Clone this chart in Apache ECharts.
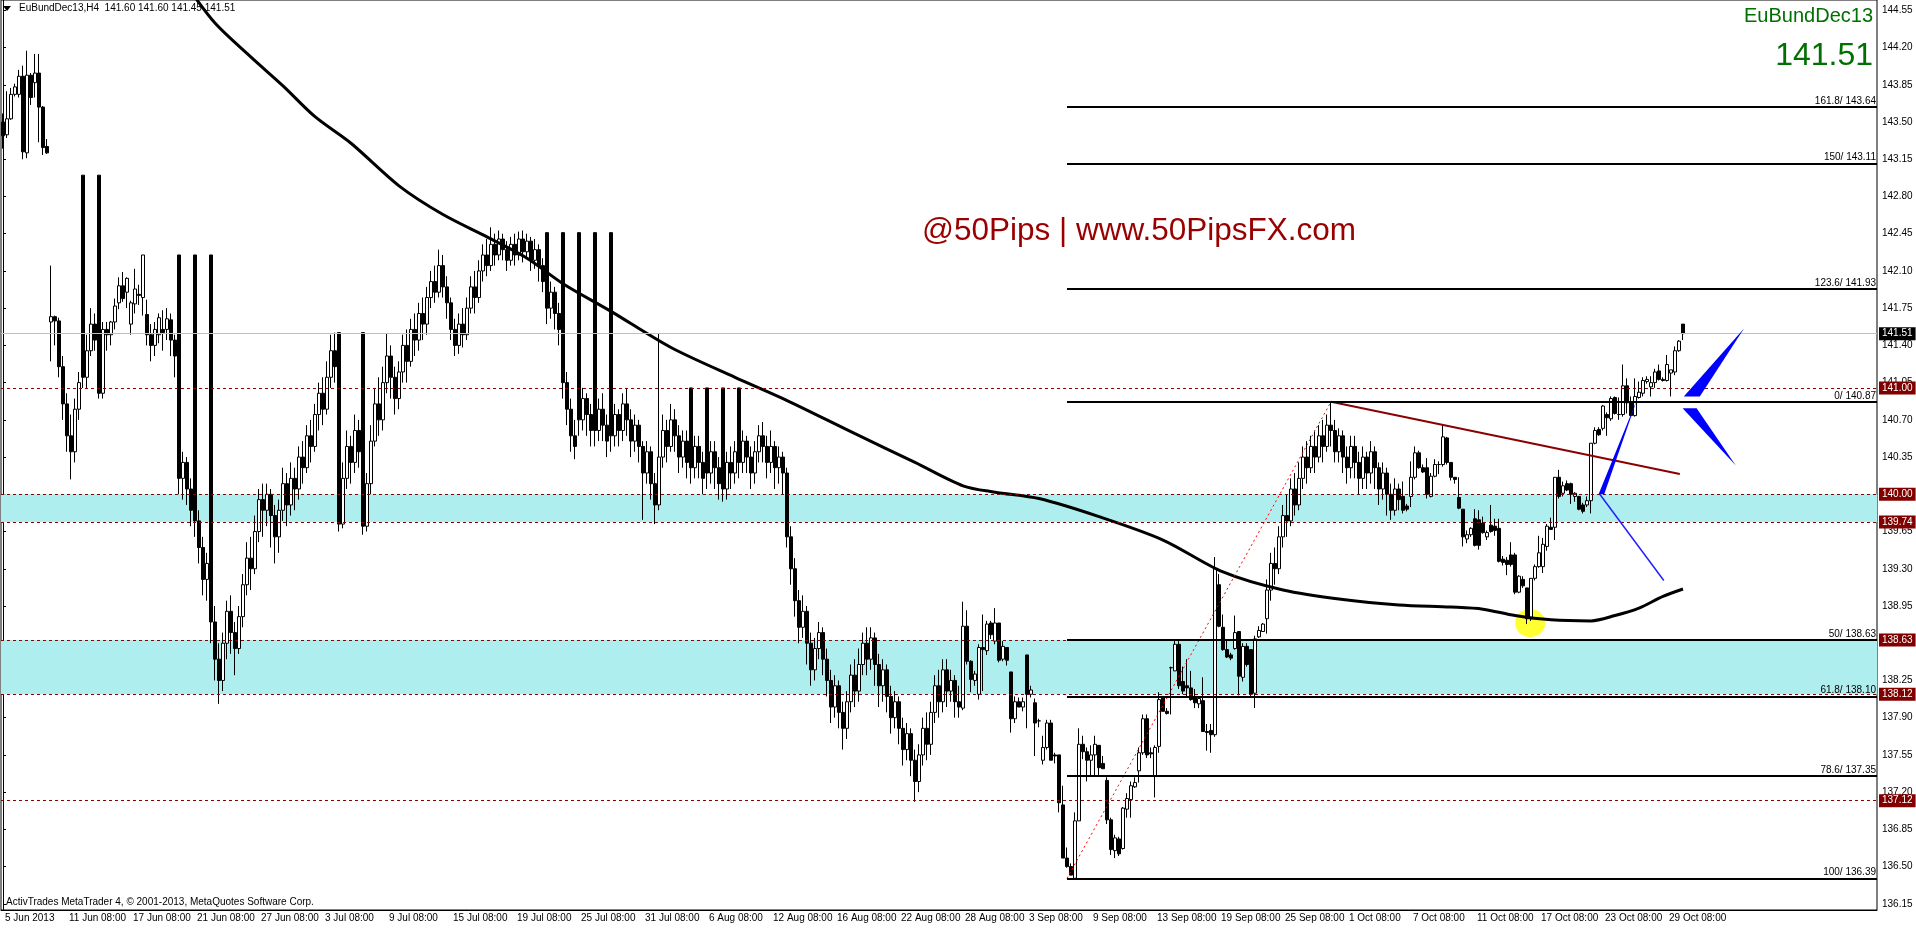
<!DOCTYPE html>
<html>
<head>
<meta charset="utf-8">
<title>EuBundDec13,H4</title>
<script src="https://cdn.jsdelivr.net/npm/echarts@6.0.0/dist/echarts.min.js"></script>
<style>
  html, body { margin: 0; padding: 0; background: #fff; }
  #chart { width: 1916px; height: 928px; }
</style>
</head>
<body>
<div id="chart"></div>
<script>
// H4 bars, one row per bar: [open, close, low, high]
const junBars = [
  [143.50,143.37,143.25,143.58],[143.38,143.53,143.35,143.79],[143.53,143.76,143.52,143.82],[143.76,143.83,143.74,143.86],
  [143.76,143.93,143.73,143.99],[143.93,143.22,143.15,144.03],[143.21,143.94,143.16,144.17],[143.94,143.73,143.66,143.96],
  [143.87,143.96,143.73,144.14],[143.96,143.64,143.31,144.14],[143.64,143.26,143.19,143.65],[143.27,143.21,143.20,143.34],
  [141.62,141.67,141.25,142.15],[141.67,141.63,141.40,141.68],[141.63,141.20,141.10,141.66],[141.20,140.85,140.70,141.30],
  [140.85,140.55,140.40,140.95],[140.55,140.40,140.14,140.75],[140.40,140.80,140.30,140.90],[140.80,141.05,140.70,141.15],
  [143.00,141.10,141.00,143.00],[141.10,141.35,141.00,141.50],[141.35,141.60,141.30,141.75],[141.60,141.45,141.35,141.70],
  [143.00,140.95,140.90,143.00],[140.95,141.55,140.90,141.62],[141.55,141.50,141.35,141.62],[141.50,141.62,141.40,141.63],
  [141.62,141.77,141.55,141.84],[141.80,141.96,141.74,142.04],[141.96,141.84,141.81,142.09],[141.90,142.03,141.75,142.04],
  [141.60,141.80,141.50,141.82],[141.79,141.93,141.70,142.12],[141.88,141.87,141.78,141.97],[141.85,142.25,141.68,142.25],
  [141.69,141.50,141.40,141.83],[141.50,141.40,141.25,141.60],[141.40,141.55,141.30,141.62],[141.50,141.66,141.42,141.70],
  [141.55,141.52,141.35,141.73],[141.55,141.65,141.45,141.75],[141.64,141.45,141.30,141.70],[141.45,141.30,141.10,141.50],
  [142.25,140.15,140.00,142.25],[140.15,140.30,139.95,140.40],[140.30,140.05,139.90,140.35],[140.05,139.85,139.70,140.15],
  [142.25,139.75,139.60,142.25],[139.75,139.50,139.35,139.85],[139.50,139.20,139.05,139.60],[139.20,139.35,139.00,139.45],
  [142.25,138.80,138.60,142.25],[138.80,138.45,138.25,138.95],[138.45,138.25,138.03,138.60],[138.25,138.60,138.15,138.70],
  [138.60,138.90,138.45,139.00],[138.90,138.70,138.50,139.05],[138.70,138.55,138.30,138.80],[138.55,138.85,138.50,138.95],
  [138.85,139.15,138.75,139.25],[139.15,139.40,139.05,139.55],[139.40,139.30,139.10,139.60],[139.30,139.65,139.25,139.80],
  [139.65,139.95,139.55,140.05],[139.95,139.85,139.60,140.10],[139.85,140.00,139.70,140.10],[140.00,139.80,139.50,140.05],
  [139.80,139.60,139.35,139.90],[139.60,139.85,139.45,139.95],[139.85,140.10,139.75,140.25],[140.10,139.90,139.70,140.20]
]
const julBars = [
  [139.90,140.15,139.80,140.30],[140.15,140.05,139.85,140.25],[140.05,140.35,139.95,140.45],[140.35,140.25,140.10,140.50],
  [140.25,140.55,140.20,140.65],[140.55,140.45,140.30,140.70],[140.45,140.75,140.40,140.85],[140.75,140.95,140.60,141.05],
  [140.95,140.80,140.65,141.10],[140.80,141.10,140.75,141.25],[141.10,141.35,141.00,141.50],[141.35,141.20,141.05,141.52],
  [141.52,139.72,139.65,141.52],[139.72,140.15,139.68,140.30],[140.15,140.45,140.05,140.60],[140.45,140.30,140.10,140.55],
  [140.30,140.60,140.20,140.75],[140.60,140.40,140.25,140.70],[141.52,139.70,139.62,141.52],[139.70,140.10,139.65,140.20],
  [140.10,140.50,140.00,140.65],[140.50,140.85,140.45,141.00],[140.85,140.70,140.55,141.10],[140.70,141.05,140.60,141.20],
  [141.05,141.30,140.95,141.51],[141.30,141.10,140.90,141.40],[141.10,140.90,140.75,141.20],[140.90,141.15,140.80,141.25],
  [141.15,141.40,141.05,141.50],[141.40,141.25,141.05,141.55],[141.25,141.55,141.20,141.65],[141.55,141.45,141.30,141.70],
  [141.45,141.70,141.35,141.80],[141.70,141.60,141.45,141.85],[141.60,141.85,141.50,141.95],[141.85,142.00,141.75,142.10],
  [142.00,141.90,141.80,142.15],[141.90,142.15,141.85,142.30],[142.15,141.95,141.85,142.25],[141.95,141.80,141.65,142.05],
  [141.80,141.55,141.45,141.85],[141.55,141.40,141.30,141.65],[141.40,141.60,141.32,141.70],[141.60,141.50,141.38,141.75],
  [141.50,141.75,141.45,141.85],[141.75,141.95,141.70,142.05],[141.95,141.85,141.70,142.10],[141.85,142.10,141.80,142.20],
  [142.10,142.25,142.00,142.35],[142.25,142.15,142.05,142.40],[142.15,142.35,142.10,142.51],[142.35,142.25,142.15,142.45],
  [142.25,142.40,142.20,142.48],[142.40,142.30,142.20,142.45],[142.30,142.20,142.10,142.38],[142.20,142.35,142.15,142.42],
  [142.35,142.25,142.15,142.45],[142.25,142.40,142.20,142.47],[142.40,142.28,142.18,142.48],[142.28,142.38,142.22,142.45],
  [142.38,142.20,142.10,142.42],[142.20,142.30,142.12,142.40],[142.30,142.15,142.00,142.35],[142.15,142.00,141.90,142.22],
  [142.46,141.75,141.60,142.46],[141.75,141.90,141.65,142.00],[141.90,141.70,141.55,141.95],[141.70,141.55,141.40,141.80],
  [142.46,141.05,140.90,142.46],[141.05,140.80,140.65,141.15],[140.80,140.55,140.40,140.90],[140.55,140.45,140.33,140.70],
  [142.46,140.70,140.55,142.46],[140.70,140.90,140.60,141.00],[140.90,140.75,140.55,140.95],[140.75,140.60,140.45,140.85],
  [142.46,140.60,140.45,142.46],[140.60,140.80,140.50,140.90],[140.80,140.65,140.50,140.95],[140.65,140.50,140.35,140.75],
  [142.46,140.55,140.40,142.46],[140.55,140.75,140.45,140.85],[140.75,140.60,140.45,140.80],[140.60,140.85,140.50,140.95],
  [140.85,140.70,140.55,141.00],[140.70,140.50,140.35,140.80],[140.50,140.65,140.40,140.75],[140.65,140.45,140.30,140.70],
  [140.45,140.20,139.76,140.50],[140.20,140.40,140.10,140.50],[140.40,140.10,139.95,140.45],[140.10,139.90,139.72,140.20]
]
const augBars = [
  [139.90,140.35,139.85,141.51],[140.35,140.60,140.25,140.75],[140.60,140.45,140.30,140.70],[140.45,140.70,140.40,140.85],
  [140.70,140.55,140.40,140.80],[140.55,140.35,140.20,140.65],[140.35,140.50,140.25,140.60],[140.50,140.30,140.15,140.60],
  [141.00,140.25,140.10,141.00],[140.25,140.45,140.15,140.55],[140.45,140.30,140.15,140.55],[140.30,140.15,140.00,140.40],
  [141.00,140.20,140.05,141.00],[140.20,140.40,140.10,140.50],[140.40,140.25,140.05,140.50],[140.25,140.10,139.95,140.35],
  [141.00,140.05,139.93,141.00],[140.05,140.30,139.95,140.40],[140.30,140.20,140.05,140.45],[140.20,140.40,140.10,140.50],
  [141.00,140.30,140.15,141.00],[140.30,140.50,140.20,140.60],[140.50,140.35,140.20,140.55],[140.35,140.20,140.05,140.45],
  [140.20,140.40,140.10,140.50],[140.40,140.55,140.30,140.65],[140.55,140.45,140.30,140.68],[140.45,140.30,140.15,140.55],
  [140.30,140.45,140.20,140.60],[140.45,140.25,140.05,140.50],[140.25,140.35,140.10,140.45],[140.35,140.20,140.00,140.40],
  [140.20,139.60,139.50,140.25],[139.60,139.30,139.15,139.70],[139.30,139.00,138.85,139.40],[139.00,138.75,138.60,139.10],
  [138.75,138.90,138.65,139.05],[138.90,138.60,138.40,138.95],[138.60,138.35,138.20,138.70],[138.35,138.55,138.25,138.65],
  [138.55,138.70,138.45,138.80],[138.70,138.45,138.30,138.75],[138.45,138.25,138.10,138.55],[138.25,138.00,137.85,138.35],
  [138.00,138.20,137.90,138.30],[138.20,137.95,137.80,138.25],[137.95,137.80,137.60,138.05],[137.80,138.05,137.70,138.15],
  [138.05,138.30,137.95,138.40],[138.30,138.15,138.00,138.45],[138.15,138.40,138.05,138.55],[138.40,138.60,138.30,138.70],
  [138.60,138.45,138.30,138.75],[138.45,138.65,138.35,138.75],[138.65,138.40,138.20,138.70],[138.40,138.20,138.00,138.50],
  [138.20,138.35,138.05,138.45],[138.35,138.10,137.95,138.40],[138.10,137.90,137.75,138.20],[137.90,138.05,137.80,138.15],
  [138.05,137.80,137.65,138.10],[137.80,137.60,137.45,137.90],[137.60,137.75,137.50,137.85],[137.75,137.50,137.35,137.80],
  [137.50,137.30,137.11,137.60],[137.30,137.55,137.20,137.65],[137.55,137.80,137.45,137.90],[137.80,137.65,137.50,137.95],
  [137.65,137.95,137.55,138.05],[137.95,138.20,137.85,138.30],[138.20,138.05,137.90,138.35],[138.05,138.35,137.95,138.45],
  [138.35,138.15,138.00,138.45],[138.15,138.25,138.05,138.35],[138.25,138.05,137.90,138.30],[138.05,138.00,137.90,138.20],
  [137.99,138.76,137.97,138.99],[138.76,138.43,138.40,138.91],[138.43,138.26,138.14,138.44],[138.25,138.31,138.20,138.34],
  [138.12,138.56,138.07,138.59],[138.56,138.54,138.15,138.87],[138.53,138.78,138.49,138.81],[138.79,138.68,138.64,138.81],
  [138.62,138.79,138.59,138.93],[138.79,138.44,138.42,138.79],[138.45,138.57,138.43,138.62],[138.56,138.44,138.39,138.56]
]
const sepBars = [
  [138.33,137.89,137.76,138.33],[137.89,138.05,137.85,138.10],[138.05,138.00,138.00,138.09],[138.00,138.05,137.96,138.09],
  [138.49,138.12,137.80,138.49],[138.12,138.16,138.09,138.20],[138.04,137.85,137.54,138.08],[137.87,137.87,137.81,137.89],
  [137.50,137.62,137.46,137.73],[137.62,137.85,137.60,137.88],[137.85,137.50,137.50,137.88],[137.55,137.54,137.47,137.57],
  [137.55,137.10,137.01,137.55],[137.08,136.58,136.58,137.26],[136.58,136.50,136.49,136.68],[136.50,136.42,136.42,136.53],
  [136.39,136.93,136.38,137.01],[136.93,137.65,136.93,137.80],[137.65,137.58,137.51,137.73],[137.58,137.50,137.30,137.62],
  [137.50,137.55,137.35,137.64],[137.55,137.65,137.35,137.73],[137.64,137.43,137.35,137.64],[137.47,137.42,137.42,137.54],
  [137.31,136.94,136.90,137.34],[136.94,136.66,136.61,136.96],[136.65,136.77,136.58,136.80],[136.76,136.62,136.60,136.78],
  [136.67,137.05,136.66,137.06],[137.04,137.14,136.96,137.19],[137.13,137.26,136.96,137.30],[137.25,137.29,137.24,137.34],
  [137.40,137.57,137.29,137.62],[137.57,137.89,137.55,137.93],[137.89,137.55,137.52,137.93],[137.57,137.56,137.52,137.62],
  [137.35,137.62,137.15,137.64],[137.63,138.07,137.57,138.14],[138.10,137.96,137.96,138.10],[137.96,137.94,137.93,137.99],
  [138.37,138.37,137.93,138.38],[138.34,138.59,138.34,138.63],[138.59,138.20,138.17,138.62],[138.24,138.15,138.12,138.38],
  [138.20,138.18,138.09,138.45],[138.18,138.07,138.06,138.34],[138.10,138.04,137.99,138.17],[138.03,138.08,137.99,138.10],
  [138.06,137.77,137.77,138.28],[137.77,137.76,137.59,137.84],[137.78,137.74,137.57,137.84],[137.74,139.30,137.72,139.41],
  [139.15,138.76,138.75,139.25],[138.75,138.54,138.53,138.87],[138.54,138.47,138.46,138.64],[138.49,138.46,138.44,138.51],
  [138.55,138.70,138.54,138.86],[138.71,138.29,138.11,138.71],[138.28,138.57,138.24,138.60],[138.57,138.40,138.38,138.60],
  [138.54,138.12,138.10,138.54],[138.13,138.64,137.99,138.67],[138.66,138.72,138.65,138.76],[138.71,138.78,138.71,138.79],
  [138.83,139.10,138.69,139.20],[139.10,139.35,139.00,139.45],[139.35,139.30,139.15,139.50],[139.30,139.60,139.25,139.70],
  [139.60,139.80,139.50,139.90],[139.80,139.75,139.60,140.00],[139.75,140.05,139.70,140.15],[140.05,139.90,139.80,140.20],
  [139.90,140.15,139.85,140.30],[140.15,140.35,140.05,140.45],[140.35,140.25,140.10,140.50],[140.25,140.45,140.20,140.55],
  [140.45,140.35,140.20,140.60],[140.35,140.55,140.30,140.65],[140.55,140.45,140.30,140.70],[140.45,140.65,140.40,140.75],
  [140.65,140.60,140.45,140.87],[140.60,140.40,140.30,140.70],[140.40,140.55,140.30,140.62],[140.55,140.35,140.20,140.60]
]
const octBars = [
  [140.35,140.25,140.10,140.45],[140.25,140.45,140.15,140.55],[140.45,140.30,140.15,140.55],[140.30,140.15,140.00,140.40],
  [140.15,140.35,140.05,140.45],[140.35,140.20,140.05,140.40],[140.20,140.40,140.10,140.50],[140.40,140.25,140.05,140.45],
  [140.25,140.05,139.90,140.30],[140.05,140.20,139.95,140.30],[140.20,140.00,139.80,140.25],[140.00,139.85,139.76,140.10],
  [139.85,140.05,139.80,140.15],[140.05,139.95,139.85,140.10],[139.98,139.85,139.82,140.12],[139.89,139.86,139.84,139.91],
  [139.98,140.16,139.88,140.31],[140.16,140.39,140.14,140.45],[140.39,140.25,140.24,140.41],[140.25,140.21,140.20,140.28],
  [140.25,140.00,139.96,140.34],[139.98,140.17,139.97,140.20],[140.17,140.28,140.16,140.33],[140.28,140.28,140.19,140.31],
  [140.28,140.54,140.26,140.65],[140.53,140.30,140.28,140.54],[140.30,140.16,140.13,140.30],[140.16,140.14,140.10,140.16],
  [139.97,139.87,139.86,140.16],[139.86,139.60,139.51,139.86],[139.58,139.62,139.54,139.66],[139.62,139.68,139.60,139.69],
  [139.77,139.52,139.51,139.86],[139.76,139.52,139.48,139.85],[139.73,139.64,139.63,139.79],[139.60,139.64,139.57,139.66],
  [139.71,139.65,139.64,139.90],[139.70,139.66,139.61,139.77],[139.68,139.37,139.36,139.77],[139.39,139.36,139.33,139.42],
  [139.38,139.34,139.24,139.41],[139.43,139.34,139.32,139.55],[139.43,139.08,139.06,139.45],[139.08,139.23,139.07,139.24],
  [139.20,139.14,139.12,139.23],[139.12,138.83,138.78,139.12],[138.83,139.21,138.81,139.21],[139.21,139.32,139.19,139.34],
  [139.32,139.45,139.31,139.61],[139.32,139.53,139.26,139.59],[139.51,139.70,139.47,139.72],[139.69,139.67,139.67,139.78],
  [139.69,140.16,139.57,140.16],[140.16,139.98,139.96,140.23],[140.01,140.08,139.98,140.12],[140.10,140.04,140.03,140.13],
  [140.10,140.00,139.91,140.11],[139.98,140.01,139.93,140.02],[139.98,139.86,139.85,139.98],[139.90,139.84,139.82,139.92],
  [139.90,139.94,139.88,139.98],[139.94,140.48,139.82,140.48],[140.48,140.60,140.47,140.63],[140.61,140.56,140.55,140.63],
  [140.62,140.83,140.60,140.84],[140.75,140.72,140.55,140.77],[140.71,140.90,140.69,140.92],[140.91,140.76,140.75,140.92],
  [140.75,140.75,140.70,140.91],[140.75,141.02,140.73,141.22],[141.02,140.86,140.76,141.09],[140.86,140.74,140.73,140.92],
  [140.74,140.92,140.73,141.09],[140.91,140.96,140.90,141.06],[140.95,141.07,140.92,141.10],[141.06,141.08,141.04,141.11],
  [141.01,141.05,140.92,141.11],[141.05,141.15,141.00,141.18],[141.16,141.08,141.07,141.22],[141.08,141.07,141.06,141.10],
  [141.07,141.22,141.06,141.31],[141.14,141.17,140.92,141.17],[141.15,141.35,141.12,141.39],[141.35,141.44,141.34,141.45],
  [141.60,141.51,141.45,141.60]
]
const bars = junBars.concat(julBars, augBars, sepBars, octBars)
const slotCount = 469

const xTickLabels = ['5 Jun 2013', '11 Jun 08:00', '17 Jun 08:00', '21 Jun 08:00', '27 Jun 08:00', '3 Jul 08:00',
  '9 Jul 08:00', '15 Jul 08:00', '19 Jul 08:00', '25 Jul 08:00', '31 Jul 08:00', '6 Aug 08:00', '12 Aug 08:00',
  '16 Aug 08:00', '22 Aug 08:00', '28 Aug 08:00', '3 Sep 08:00', '9 Sep 08:00', '13 Sep 08:00', '19 Sep 08:00',
  '25 Sep 08:00', '1 Oct 08:00', '7 Oct 08:00', '11 Oct 08:00', '17 Oct 08:00', '23 Oct 08:00', '29 Oct 08:00']
const yTicks = [136.15, 136.50, 136.85, 137.20, 137.55, 137.90, 138.25, 138.60, 138.95, 139.30, 139.65, 140.00,
  140.35, 140.70, 141.05, 141.40, 141.75, 142.10, 142.45, 142.80, 143.15, 143.50, 143.85, 144.20, 144.55]

// moving average: [bar, price]
const maPoints = [[46, 144.78], [53, 144.43], [62, 144.11], [70, 143.84], [78, 143.55], [87, 143.30], [99, 142.90],
  [110, 142.63], [121, 142.42], [131, 142.22], [140, 141.98], [152, 141.72], [167, 141.38], [183, 141.10],
  [195, 140.90], [213, 140.57], [228, 140.30], [240, 140.08], [248, 140.02], [259, 139.96], [274, 139.79],
  [290, 139.57], [305, 139.27], [320, 139.10], [335, 139.01], [349, 138.96], [362, 138.94], [370, 138.92],
  [378, 138.86], [387, 138.82], [397, 138.81], [403, 138.86], [409, 138.93], [415, 139.04], [420, 139.11]]

const lastPrice = 141.51
const dashLevels = [141.00, 140.00, 139.74, 138.63, 138.12, 137.12]
const bands = [[139.74, 140.00], [138.12, 138.63]]
const fibStartBar = 266
const fibLevels = [['161.8', 143.64], ['150', 143.11], ['123.6', 141.93], ['0', 140.87],
  ['50', 138.63], ['61.8', 138.10], ['78.6', 137.35], ['100', 136.39]]
const fibAnchors = [[266, 136.39], [332, 140.87]]
const trendLine = [[332, 140.87], [419.2, 140.19]]
const blueLine = [[399.2, 140.00], [415.2, 139.19]]
const wedges = [
  [[420.2, 140.92], [424.2, 140.92], [435.3, 141.56]],
  [[419.9, 140.81], [423.4, 140.81], [433.2, 140.27]],
  [[398.9, 140.00], [400.3, 140.00], [408.6, 140.90]]
]
const yellowMark = [381.8, 138.79]

const font = 'Liberation Sans'
const showTick = (i) => i % 16 === 0 && i / 16 < xTickLabels.length
const last = bars[bars.length - 1]

const chart = echarts.init(document.getElementById('chart'))
chart.setOption({
  animation: false,
  backgroundColor: '#fff',
  grid: { left: 1, right: 39, top: 0, bottom: 18, show: true, borderColor: '#000', borderWidth: 1 },
  xAxis: [
    {
      type: 'category',
      data: Array.from({ length: slotCount }, (_, i) => 'b' + i),
      boundaryGap: true,
      axisLine: { lineStyle: { color: '#000', width: 1 } },
      axisTick: { alignWithLabel: true, interval: showTick, length: 4, lineStyle: { color: '#000' } },
      axisLabel: {
        interval: showTick,
        formatter: (v, i) => xTickLabels[i / 16] || '',
        align: 'left', margin: 3, padding: [0, 0, 0, 2],
        color: '#000', fontSize: 10, fontFamily: font
      },
      splitLine: { show: false }
    },
    { type: 'value', min: -0.5, max: slotCount - 0.5, show: false }
  ],
  yAxis: {
    type: 'value',
    position: 'right',
    min: 136.092,
    max: 144.647,
    splitLine: { show: false },
    axisLine: { show: true, lineStyle: { color: '#000' } },
    axisTick: { show: true, customValues: yTicks, length: 3, lineStyle: { color: '#000' } },
    axisLabel: { customValues: yTicks, formatter: (v) => v.toFixed(2), color: '#000', fontSize: 10, fontFamily: font, margin: 5 }
  },
  series: [
    {
      type: 'line', xAxisIndex: 1, data: [], z: 1, silent: true,
      markArea: { silent: true, itemStyle: { color: '#afeeee' }, data: bands.map(b => [{ yAxis: b[0] }, { yAxis: b[1] }]) }
    },
    {
      type: 'scatter', xAxisIndex: 1, data: [yellowMark], z: 2, silent: true,
      symbolSize: [30, 28], itemStyle: { color: '#ffff00' }
    },
    {
      type: 'line', xAxisIndex: 1, data: [], z: 2, silent: true,
      markLine: {
        symbol: 'none', silent: true,
        lineStyle: { color: '#8b0000', type: [3, 3], width: 1 },
        label: {
          position: 'end', distance: 2, formatter: (p) => p.value.toFixed(2),
          backgroundColor: '#800000', color: '#fff', fontSize: 10, fontFamily: font, padding: [2, 3, 1, 3]
        },
        data: dashLevels.map(v => ({ yAxis: v }))
      }
    },
    {
      type: 'line', xAxisIndex: 1, data: [], z: 2, silent: true,
      markLine: {
        symbol: 'none', silent: true,
        lineStyle: { color: '#c0c0c0', type: 'solid', width: 1 },
        label: {
          position: 'end', distance: 2, formatter: (p) => p.value.toFixed(2),
          backgroundColor: '#000', color: '#fff', fontSize: 10, fontFamily: font, padding: [2, 3, 1, 3]
        },
        data: [{ yAxis: lastPrice }]
      }
    },
    {
      type: 'candlestick', data: bars, barWidth: 3, z: 3, silent: true,
      itemStyle: { color: '#fff', color0: '#000', borderColor: '#000', borderColor0: '#000', borderColorDoji: '#000', borderWidth: 1 }
    },
    {
      type: 'line', xAxisIndex: 1, data: maPoints, z: 4, silent: true,
      symbol: 'none', smooth: 0.3, lineStyle: { color: '#000', width: 3 }
    },
    {
      type: 'line', xAxisIndex: 1, data: [], z: 4, silent: true,
      markLine: {
        symbol: 'none', silent: true,
        lineStyle: { color: '#000', type: 'solid', width: 2 },
        label: { position: 'insideEndTop', distance: 1, formatter: '{b}', color: '#000', fontSize: 10, fontFamily: font },
        data: fibLevels.map(f => [
          { coord: [fibStartBar, f[1]], name: f[0] + '/ ' + f[1].toFixed(2) },
          { coord: [slotCount - 0.5, f[1]] }
        ])
      }
    },
    {
      type: 'line', xAxisIndex: 1, data: fibAnchors, z: 4, silent: true,
      symbol: 'none', lineStyle: { color: '#ff0000', width: 1, type: [2, 3] }
    },
    {
      type: 'line', xAxisIndex: 1, data: trendLine, z: 4, silent: true,
      symbol: 'none', lineStyle: { color: '#8b0000', width: 2 }
    },
    {
      type: 'line', xAxisIndex: 1, data: blueLine, z: 4, silent: true,
      symbol: 'none', lineStyle: { color: '#2020ff', width: 1.5 }
    },
    {
      type: 'custom', xAxisIndex: 1, z: 5, silent: true,
      data: wedges.map(w => w[0]),
      renderItem: (params, api) => ({
        type: 'polygon',
        shape: { points: wedges[params.dataIndex].map(p => api.coord(p)) },
        style: { fill: '#0000ff' }
      })
    }
  ],
  graphic: [
    { type: 'polygon', shape: { points: [[3, 6], [11, 6], [7, 11]] }, style: { fill: '#000' } },
    {
      type: 'text', left: 19, top: 3,
      style: { text: `EuBundDec13,H4  ${last[0].toFixed(2)} ${last[3].toFixed(2)} ${last[2].toFixed(2)} ${last[1].toFixed(2)}`, font: `10px "${font}"`, fill: '#000' }
    },
    {
      type: 'text', right: 43, top: 6,
      style: { text: 'EuBundDec13', font: `20px "${font}"`, fill: '#007000' }
    },
    {
      type: 'text', right: 43, top: 40,
      style: { text: lastPrice.toFixed(2), font: `32px "${font}"`, fill: '#007000' }
    },
    {
      type: 'text', left: 922, top: 215,
      style: { text: '@50Pips | www.50PipsFX.com', font: `31.5px "${font}"`, fill: '#990000' }
    },
    {
      type: 'text', left: 6, top: 897,
      style: { text: 'ActivTrades MetaTrader 4, © 2001-2013, MetaQuotes Software Corp.', font: `10px "${font}"`, fill: '#000' }
    }
  ]
})
</script>
</body>
</html>
